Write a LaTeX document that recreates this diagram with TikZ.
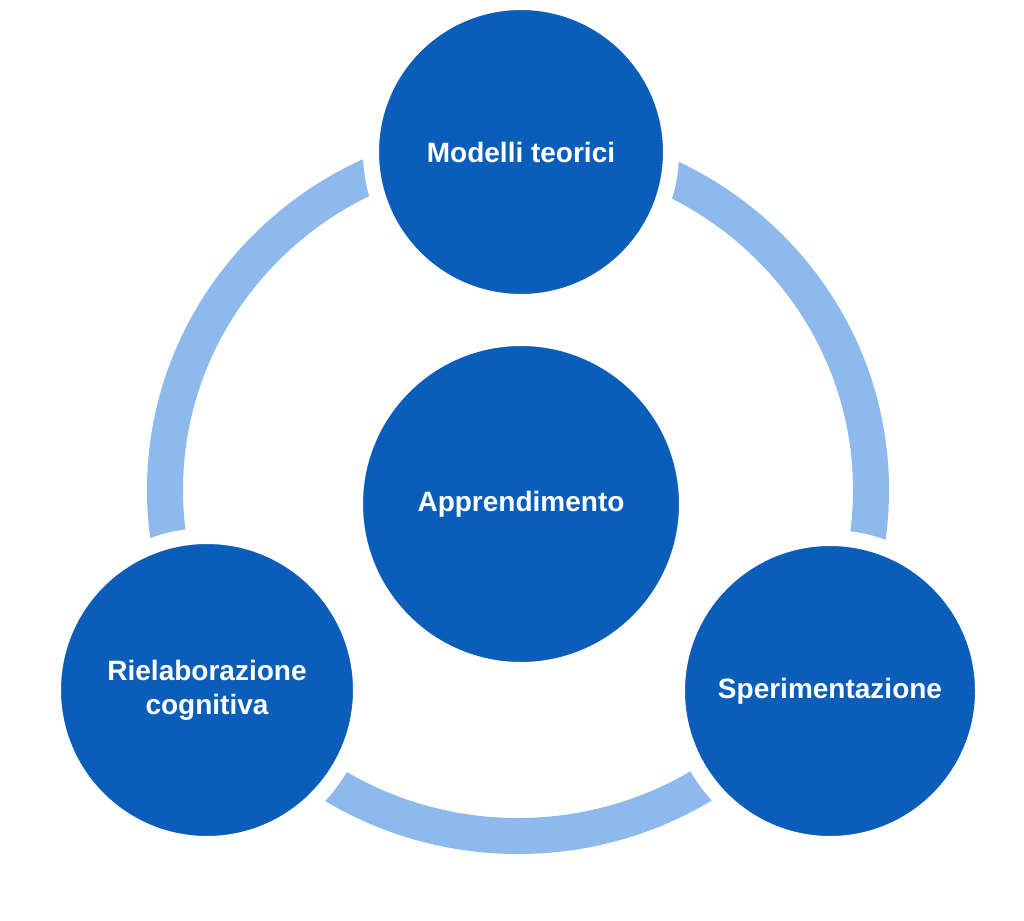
\documentclass[tikz,border=0pt]{standalone}
\usepackage{fontspec}
\setmainfont{Liberation Sans}
\tikzset{x=1pt,y=-1pt}

\begin{document}
\begin{tikzpicture}
% Style
[
    line cap=butt,
    stage/.style={circle, fill=stage_fill, draw=white, line width=16pt,
        text=white, font=\bfseries\fontsize{28}{34}\selectfont, align=center,
        inner sep=0pt, minimum size=#1},
    cycle line/.style={line width=36pt, draw=ring_color}
]

% Define: Colors
\definecolor{stage_fill}{RGB}{10,94,186}
\definecolor{ring_color}{RGB}{141,185,236}

%=================================== Start ===================================
{
    \useasboundingbox (0,0) rectangle (1024,920);

    % Draw: Cycle ring
    \draw [cycle line] (518,490) ellipse [x radius=353, y radius=346];

    % Draw: Stages
    \node [stage=300] (modelli)         at (521,152) {Modelli teorici};
    \node [stage=332] (apprendimento)   at (521,504) {Apprendimento};
    \node [stage=308] (rielaborazione)  at (207,690) {Rielaborazione\\cognitiva};
    \node [stage=306] (sperimentazione) at (830,691) {Sperimentazione};
}
%==================================== END ====================================
\end{tikzpicture}
\end{document}
